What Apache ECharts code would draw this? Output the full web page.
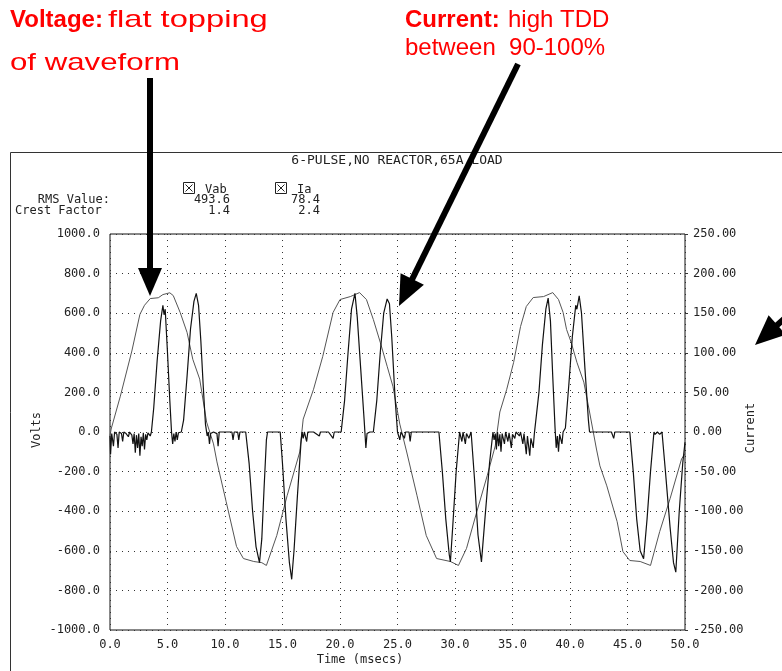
<!DOCTYPE html>
<html>
<head>
<meta charset="utf-8">
<script src="https://cdn.jsdelivr.net/npm/echarts@6/dist/echarts.min.js"></script>
<style>
html,body{margin:0;padding:0;background:#fff;}
#main{width:782px;height:671px;}
</style>
</head>
<body>
<div id="main"></div>
<script>
// ---------- DATA ----------
const chartTitle = '6-PULSE,NO REACTOR,65A LOAD';
const legendNames = ['Vab', 'Ia'];
const rmsValues = ['493.6', '78.4'];
const crestFactors = ['1.4', '2.4'];

// Voltage Vab (Volts) vs time (msecs)
const voltT = [0.0,0.1,0.9,1.9,2.6,3.0,3.5,4.2,4.6,5.2,5.5,6.1,6.7,7.2,7.8,8.4,9.0,9.3,10.1,11.0,11.6,12.5,13.2,13.6,14.5,15.4,16.5,16.8,17.7,18.5,19.4,20.0,20.9,21.3,21.7,22.3,22.9,23.5,24.1,24.6,25.2,25.8,26.7,27.5,28.4,29.6,30.3,31.0,31.9,32.8,33.5,33.9,34.5,35.1,35.7,36.2,36.8,37.7,38.5,39.0,39.4,39.7,40.1,40.6,41.2,41.7,42.3,42.6,43.2,44.1,44.6,45.2,46.1,47.0,47.8,48.7,49.7,50.0];
const voltV = [-20,15,181,409,594,640,674,678,694,703,689,604,503,367,267,50,-60,-151,-352,-578,-639,-654,-660,-674,-523,-322,-101,65,216,382,604,669,684,694,704,669,568,453,332,231,40,-101,-322,-523,-639,-654,-674,-588,-402,-221,-70,101,216,352,533,634,679,684,704,669,604,518,453,352,252,101,-86,-171,-272,-453,-604,-649,-654,-674,-503,-337,-136,-110];

// Current Ia (A) vs time (msecs)
const currT = [0.0,0.05,0.15,0.3,0.4,0.6,0.7,0.8,1.0,1.1,1.2,1.4,1.6,1.7,1.9,2.0,2.1,2.2,2.3,2.4,2.5,2.6,2.7,2.8,2.9,3.0,3.1,3.2,3.3,3.5,3.6,
 3.8,4.1,4.4,4.6,4.7,4.8,5.0,5.2,5.35,5.45,5.55,5.65,5.75,5.85,5.95,6.2,
 6.4,6.7,7.0,7.3,7.5,7.7,7.9,8.1,8.3,8.45,8.55,8.65,8.75,9.0,9.3,9.4,9.5,10.6,10.7,10.8,11.1,11.2,11.3,11.8,
 12.1,12.4,12.7,13.0,13.2,13.4,13.6,13.7,14.8,
 15.0,15.3,15.6,15.8,16.0,16.3,16.6,16.7,16.8,16.9,17.1,17.2,17.7,18.2,18.3,19.0,19.4,19.5,20.1,
 20.4,20.7,21.0,21.3,21.5,21.8,22.1,22.25,22.35,22.6,22.9,
 23.2,23.5,23.8,24.1,24.3,24.5,24.8,25.0,25.2,25.3,25.6,25.7,26.0,26.1,26.2,28.6,
 28.9,29.2,29.5,29.6,29.8,30.1,30.4,30.6,30.7,30.9,31.0,31.2,31.4,
 31.7,32.0,32.3,32.6,33.0,33.3,
 33.4,33.5,33.6,33.7,33.8,33.9,34.0,34.1,34.3,34.4,34.6,34.7,34.9,35.0,35.2,35.3,35.6,35.7,35.9,36.0,36.2,36.3,36.5,36.6,36.8,36.9,37.0,
 37.3,37.6,37.9,38.1,38.3,38.5,38.7,38.8,38.9,39.0,39.1,39.3,39.4,39.6,
 39.9,40.2,40.5,40.6,40.8,41.0,41.3,41.6,41.7,43.6,43.8,43.9,45.2,
 45.5,45.8,46.1,46.4,46.7,47.0,47.3,47.4,47.6,47.8,48.0,
 48.3,48.7,49.0,49.2,49.5,49.8,50.0];
const currI = [-5,-28,-2,-18,0,-3,-20,0,-2,-12,0,-2,-6,0,-4,-15,-2,-26,-4,-20,-2,-30,-6,-18,-1,-22,-3,-10,-1,-5,0,
 30,90,140,160,148,155,100,40,0,-15,-2,-12,0,-10,-1,0,
 15,70,130,165,175,160,115,60,10,-5,0,-15,-2,0,-2,-18,0,0,-10,0,0,-10,0,0,
 -40,-100,-145,-165,-135,-70,-10,0,0,
 -40,-110,-165,-186,-150,-80,-15,0,-8,0,-12,0,0,-5,0,0,-8,0,0,
 40,100,155,175,145,80,15,-20,-2,0,0,
 40,100,150,168,162,120,40,0,-10,0,-8,0,0,-12,0,0,
 -50,-110,-155,-164,-120,-50,0,-12,0,-15,-2,-8,0,
 -60,-130,-164,-110,-40,0,
 -10,-2,-22,0,-18,-3,-25,-2,-15,0,-12,-1,-20,-3,-8,0,-5,0,-15,-2,-28,-5,-30,-8,-20,-2,0,
 50,110,155,169,140,70,5,-20,-5,-25,-3,-15,0,5,
 60,120,160,155,172,150,80,15,0,0,-8,0,0,
 -50,-110,-150,-160,-110,-50,0,-3,0,-3,0,
 -50,-120,-165,-177,-100,-40,-13];

// Axis settings
const xMin = 0, xMax = 50, xStep = 5;
const vMin = -1000, vMax = 1000, vStep = 200;
const iMin = -250, iMax = 250, iStep = 50;

// ---------- CHART ----------
const voltData = voltT.map((t, k) => [t, voltV[k]]);
const currData = currT.map((t, k) => [t, currI[k]]);

const MONO = "'DejaVu Sans Mono', monospace";
const SANS = "'Liberation Sans', Arial, sans-serif";
const TXT = '#222';
const RED = '#ff0000';

function arrow(x1, y1, x2, y2, w, hl, hw) {
  const dx = x2 - x1, dy = y2 - y1, L = Math.hypot(dx, dy);
  const ux = dx / L, uy = dy / L, px = -uy, py = ux;
  const bx = x2 - ux * hl, by = y2 - uy * hl;
  return [
    { type: 'line', z: 100, shape: { x1: x1, y1: y1, x2: bx + ux * 2, y2: by + uy * 2 },
      style: { stroke: '#000', lineWidth: w } },
    { type: 'polygon', z: 100, shape: { points: [[x2, y2], [bx + px * hw, by + py * hw], [bx - px * hw, by - py * hw]] },
      style: { fill: '#000' } }
  ];
}
function checkBox(x, y, s) {
  return [
    { type: 'rect', z: 10, shape: { x: x + 0.5, y: y + 0.5, width: s, height: s }, style: { fill: 'none', stroke: TXT, lineWidth: 1 } },
    { type: 'line', z: 10, shape: { x1: x + 2.5, y1: y + 2.5, x2: x + s - 1.5, y2: y + s - 1.5 }, style: { stroke: TXT, lineWidth: 1 } },
    { type: 'line', z: 10, shape: { x1: x + s - 1.5, y1: y + 2.5, x2: x + 2.5, y2: y + s - 1.5 }, style: { stroke: TXT, lineWidth: 1 } }
  ];
}
function txt(x, y, s, align, size, font, rot) {
  return { type: 'text', z: 10, x: x, y: y, rotation: rot || 0, style: { text: s, font: (size || 12) + 'px ' + (font || MONO), fill: TXT, textAlign: align || 'left', textVerticalAlign: 'middle' } };
}

const graphics = [
  { type: 'rect', z: 0, shape: { x: 10.5, y: 152.5, width: 900, height: 700 }, style: { fill: 'none', stroke: '#333', lineWidth: 1 } },
  txt(397, 161, chartTitle, 'center', 13),
  txt(110, 200, 'RMS Value:', 'right'),
  txt(15, 211, 'Crest Factor', 'left'),
  txt(205, 190, legendNames[0], 'left'),
  txt(230, 200, rmsValues[0], 'right'),
  txt(230, 211, crestFactors[0], 'right'),
  txt(297, 190, legendNames[1], 'left'),
  txt(320, 200, rmsValues[1], 'right'),
  txt(320, 211, crestFactors[1], 'right'),
  txt(360, 660, 'Time (msecs)', 'center'),
  txt(37, 430, 'Volts', 'center', 12, MONO, Math.PI / 2),
  txt(751, 428, 'Current', 'center', 12, MONO, Math.PI / 2),
  // red annotations
  { type: 'text', z: 100, x: 10, y: 20, style: { text: 'Voltage:', font: 'bold 24px ' + SANS, fill: RED, textVerticalAlign: 'middle' } },
  { type: 'text', z: 100, x: 108, y: 20, scaleX: 1.36, style: { text: 'flat topping', font: '24px ' + SANS, fill: RED, textVerticalAlign: 'middle' } },
  { type: 'text', z: 100, x: 10, y: 63, scaleX: 1.3, style: { text: 'of waveform', font: '24px ' + SANS, fill: RED, textVerticalAlign: 'middle' } },
  { type: 'text', z: 100, x: 405, y: 20, style: { text: 'Current:', font: 'bold 24px ' + SANS, fill: RED, textVerticalAlign: 'middle' } },
  { type: 'text', z: 100, x: 508, y: 20, style: { text: 'high TDD', font: '24px ' + SANS, fill: RED, textVerticalAlign: 'middle' } },
  { type: 'text', z: 100, x: 405, y: 48, style: { text: 'between  90-100%', font: '24px ' + SANS, fill: RED, textVerticalAlign: 'middle' } }
].concat(
  checkBox(183, 182, 11),
  checkBox(275, 182, 11),
  arrow(150, 78, 150, 296, 6, 28, 12),
  arrow(518, 64, 399, 306, 6, 30, 13),
  arrow(805, 300, 755, 345, 6, 30, 13)
);

const chart = echarts.init(document.getElementById('main'), null, { renderer: 'canvas' });
chart.setOption({
  animation: false,
  backgroundColor: '#fff',
  grid: { left: 110, right: 97, top: 234, bottom: 41, show: true, borderColor: '#111', borderWidth: 1, backgroundColor: 'transparent' },
  xAxis: {
    type: 'value', min: xMin, max: xMax, interval: xStep,
    axisLine: { show: false }, axisTick: { show: false },
    axisLabel: { color: TXT, fontFamily: MONO, fontSize: 12, margin: 9, formatter: v => v.toFixed(1) },
    splitLine: { show: true, lineStyle: { color: '#333', width: 1, type: [1, 5] } }
  },
  yAxis: [
    {
      type: 'value', min: vMin, max: vMax, interval: vStep, position: 'left',
      axisLine: { show: false }, axisTick: { show: false },
      axisLabel: { color: TXT, fontFamily: MONO, fontSize: 12, margin: 10, formatter: v => v.toFixed(1) },
      splitLine: { show: true, lineStyle: { color: '#333', width: 1, type: [1, 5] } }
    },
    {
      type: 'value', min: iMin, max: iMax, interval: iStep, position: 'right',
      axisLine: { show: false },
      axisTick: { show: true, length: 3, lineStyle: { color: '#333' } },
      axisLabel: { color: TXT, fontFamily: MONO, fontSize: 12, margin: 8, formatter: v => v.toFixed(2) },
      splitLine: { show: false }
    }
  ],
  series: [
    { name: 'Vab', type: 'line', yAxisIndex: 0, data: voltData, showSymbol: false, symbol: 'none',
      lineStyle: { color: '#555', width: 1 }, z: 3 },
    { name: 'Ia', type: 'line', yAxisIndex: 1, data: currData, showSymbol: false, symbol: 'none',
      lineStyle: { color: '#111', width: 1.2 }, z: 4 }
  ],
  graphic: graphics
});
</script>
</body>
</html>
